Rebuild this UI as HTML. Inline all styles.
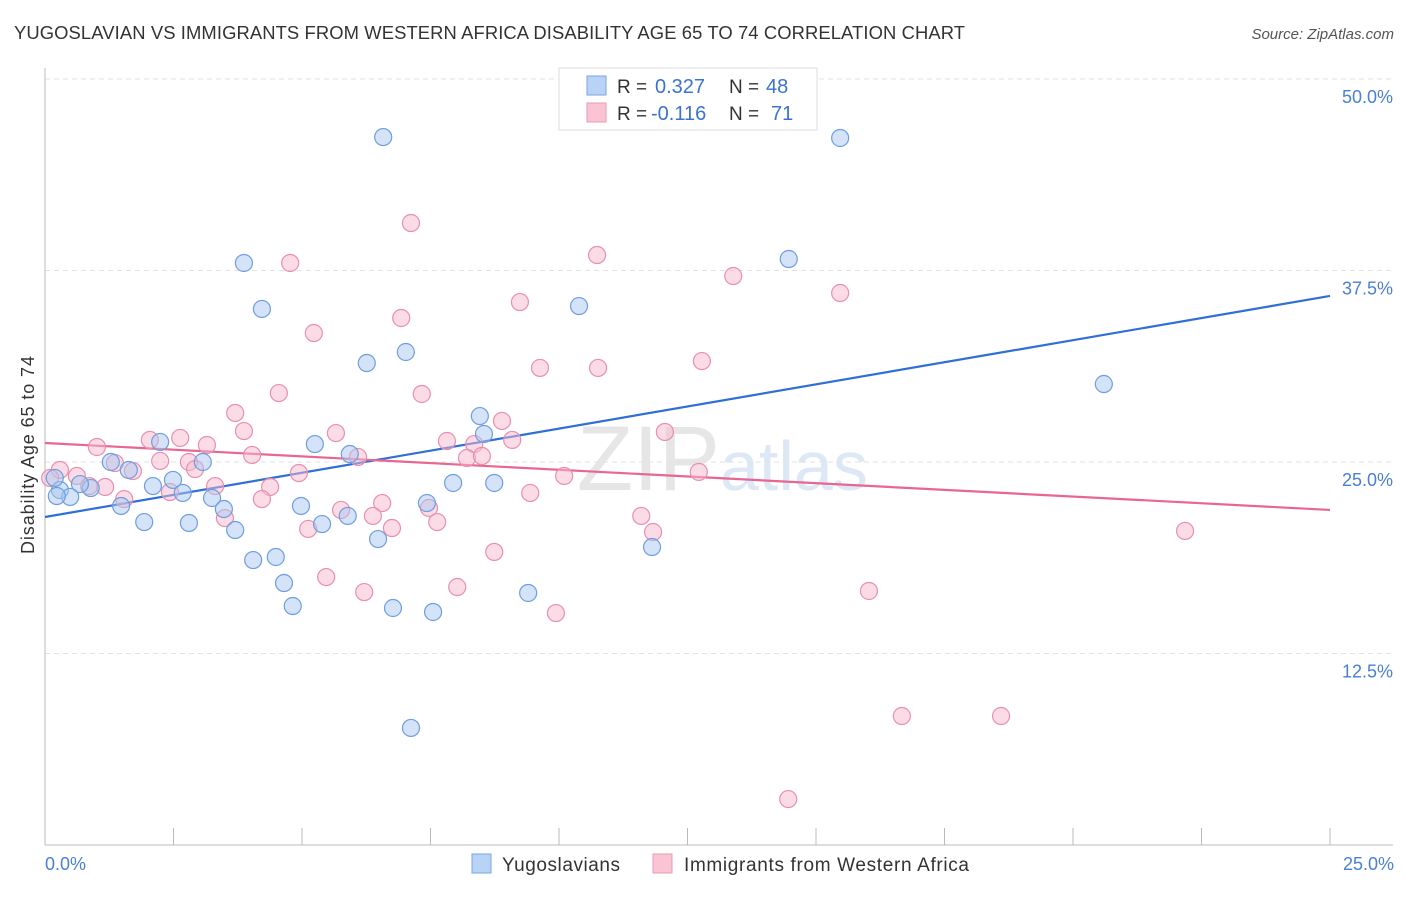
<!DOCTYPE html>
<html><head><meta charset="utf-8"><style>
body{margin:0;background:#fff;font-family:"Liberation Sans",sans-serif;}
svg text{font-family:"Liberation Sans",sans-serif;}
</style></head><body>
<svg id="chart" width="1406" height="892" xmlns="http://www.w3.org/2000/svg">
<text x="14" y="39" font-size="18.4" fill="#333" textLength="951">YUGOSLAVIAN VS IMMIGRANTS FROM WESTERN AFRICA DISABILITY AGE 65 TO 74 CORRELATION CHART</text>
<text x="1394" y="39" font-size="15" fill="#555" text-anchor="end" font-style="italic">Source: ZipAtlas.com</text>
<text x="720" y="490" font-size="92" fill="#e6e6e6" text-anchor="end" font-family="Liberation Serif">ZIP</text>
<text x="720" y="490" font-size="70" fill="#dce8f5">atlas</text>
<g id="grid"></g><g id="axes"></g><g id="trend"></g><g id="pts"></g>
<text transform="translate(34,455) rotate(-90)" font-size="18" fill="#333" text-anchor="middle" textLength="198">Disability Age 65 to 74</text>
<text x="45" y="870" font-size="18" fill="#4a7fd4">0.0%</text>
<text x="1394" y="870" font-size="18" fill="#4a7fd4" text-anchor="end">25.0%</text>
<g>
<rect x="559" y="68" width="258" height="62" fill="#fff" stroke="#ddd"/>
<rect x="587" y="76" width="19" height="19" fill="#b8d3f5" stroke="#7aa5e0"/>
<rect x="587" y="103" width="19" height="19" fill="#f9c4d4" stroke="#ec9ab5"/>
<text x="617" y="93" font-size="19" fill="#333">R =</text>
<text x="655" y="93" font-size="20" fill="#3a73d0">0.327</text>
<text x="729" y="93" font-size="19" fill="#333">N =</text>
<text x="766" y="93" font-size="20" fill="#3a73d0">48</text>
<text x="617" y="120" font-size="19" fill="#333">R =</text>
<text x="651" y="120" font-size="20" fill="#3a73d0">-0.116</text>
<text x="729" y="120" font-size="19" fill="#333">N =</text>
<text x="771" y="120" font-size="20" fill="#3a73d0">71</text>
</g>
<g>
<rect x="472" y="854" width="19" height="19" fill="#b8d3f5" stroke="#7aa5e0"/>
<text x="502" y="871" font-size="19" fill="#333" textLength="118">Yugoslavians</text>
<rect x="653" y="854" width="19" height="19" fill="#f9c4d4" stroke="#ec9ab5"/>
<text x="684" y="871" font-size="19" fill="#333" textLength="285">Immigrants from Western Africa</text>
</g>
</svg>
<script>
const yTicks=[12.5,25,37.5,50];
const xTicks=[0,2.5,5,7.5,10,12.5,15,17.5,20,22.5,25];
const blueX=[6.58,15.47,3.87,14.47,4.22,10.39,7.02,6.26,20.60,8.46,8.54,5.25,2.24,5.93,3.07,1.28,1.63,2.49,2.10,2.68,0.89,0.68,0.29,0.19,0.49,0.23,1.48,3.25,3.48,4.98,5.39,5.89,1.93,2.80,3.70,6.48,7.43,7.94,8.74,11.81,4.05,4.49,4.65,4.82,6.77,7.55,9.40,7.12];
const blueY=[46.21,46.15,37.99,38.25,34.99,35.18,32.18,31.46,30.09,28.00,26.83,26.17,26.31,25.52,25.0,25.0,24.48,23.83,23.43,22.98,23.30,23.56,23.17,23.96,22.72,22.78,22.13,22.65,21.93,22.13,20.95,21.48,21.08,21.02,20.56,19.97,22.32,23.63,23.63,19.45,18.60,18.80,17.10,15.60,15.47,15.21,16.45,7.64];
const pinkX=[7.12,10.74,4.77,13.39,15.47,9.24,6.93,5.23,12.78,9.63,10.76,4.55,7.33,3.70,3.87,12.06,2.63,1.01,2.04,3.15,7.82,8.89,9.09,8.35,5.66,4.03,6.09,8.21,8.50,2.24,2.80,1.36,12.72,10.10,4.94,1.71,2.92,0.62,0.29,0.10,1.17,0.86,3.31,4.38,2.43,9.44,1.54,4.22,6.56,5.76,7.47,6.38,3.50,11.60,6.75,5.12,7.63,11.83,22.18,8.74,5.47,6.21,8.02,9.94,16.03,16.67,18.60,14.46];
const pinkY=[40.60,38.51,37.99,37.14,36.03,35.44,34.40,33.42,31.59,31.14,31.14,29.50,29.44,28.20,27.02,26.96,26.57,25.98,26.44,26.11,26.37,27.68,26.44,26.17,26.89,25.46,25.33,25.26,25.39,25.07,25.0,24.93,24.35,24.09,24.28,24.41,24.54,24.09,24.48,23.96,23.37,23.43,23.43,23.37,23.04,22.98,22.58,22.58,22.32,21.87,22.0,21.48,21.34,21.48,20.69,20.63,21.08,20.43,20.50,19.13,17.49,16.51,16.84,15.14,16.58,8.42,8.42,3.0];
const blueTrend=[21.41,35.84];
const pinkTrend=[26.24,21.87];
const NS="http://www.w3.org/2000/svg";
const sx=v=>45+v/25*1285;
const sy=v=>845-v/50*766;
function mk(tag,attrs,parent){const e=document.createElementNS(NS,tag);for(const k in attrs)e.setAttribute(k,attrs[k]);document.getElementById(parent).appendChild(e);return e;}
yTicks.forEach(t=>{
 const l=mk('line',{x1:45,x2:1393,y1:sy(t),y2:sy(t),stroke:'#e2e2e2','stroke-dasharray':'5,4'},'grid');
 
 
 const tx=mk('text',{x:1393,y:sy(t)+24,'font-size':18,fill:'#4a7fd4','text-anchor':'end'},'grid');
 tx.textContent=t.toFixed(1)+'%';
 
 
});
const ax=mk('line',{x1:45,x2:1393,y1:845,y2:845,stroke:'#bbb'},'axes');


const ay=mk('line',{x1:45,x2:45,y1:68,y2:845,stroke:'#bbb'},'axes');


xTicks.forEach(t=>{
 const l=mk('line',{x1:sx(t),x2:sx(t),y1:828,y2:845,stroke:'#bbb'},'axes');
 
 
});
function pts(xs,ys,fill,stroke,name){
 xs.forEach((x,i)=>{
  const c=mk('circle',{cx:sx(x),cy:sy(ys[i]),r:8.5,fill:fill,'fill-opacity':0.5,stroke:stroke,'stroke-width':1.2},'pts');
  
  
 });
}
pts(pinkX,pinkY,'#f7b9cd','#e98fae','western-africa-point');
pts(blueX,blueY,'#a9c8f0','#6f9ee0','yugoslavian-point');
const bl=mk('line',{x1:sx(0),y1:sy(blueTrend[0]),x2:sx(25),y2:sy(blueTrend[1]),stroke:'#2f6fd6','stroke-width':2.2},'trend');


const pl=mk('line',{x1:sx(0),y1:sy(pinkTrend[0]),x2:sx(25),y2:sy(pinkTrend[1]),stroke:'#e8668f','stroke-width':2.2},'trend');


</script>
</body></html>
